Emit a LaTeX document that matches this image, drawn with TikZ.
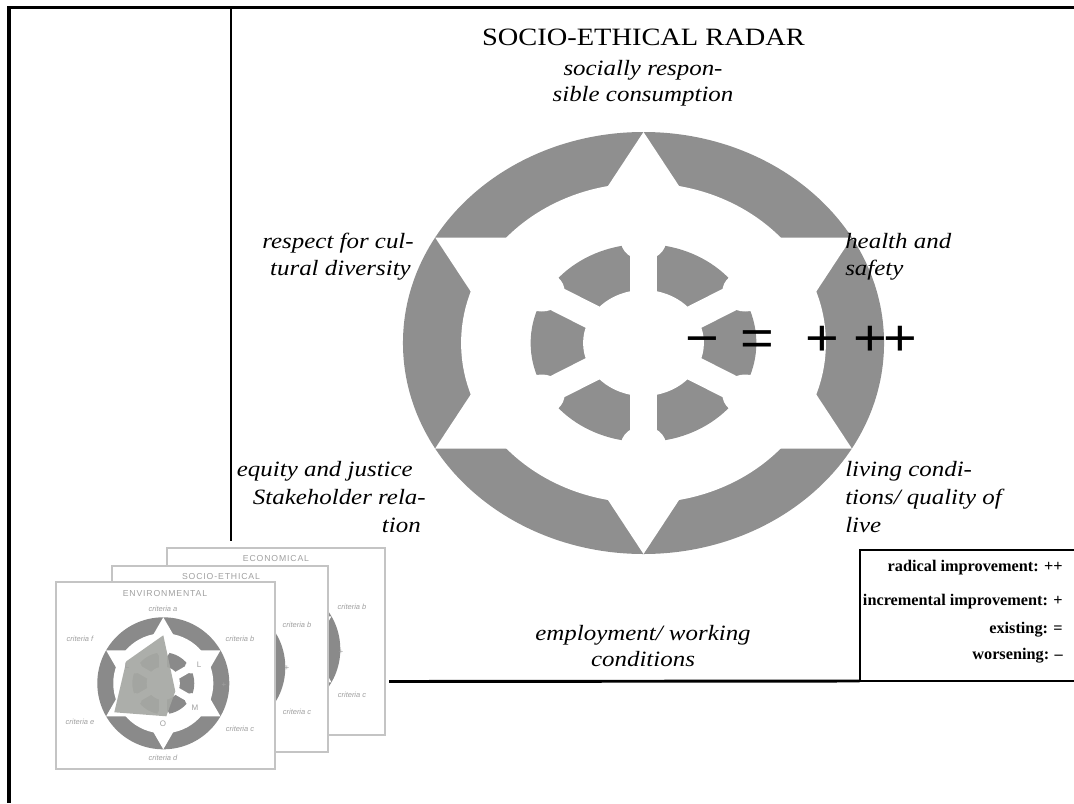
\documentclass[tikz,border=0pt]{standalone}
\usepackage{fontspec}
\setmainfont{Liberation Serif}[FakeStretch=1.14]
\newfontfamily\legendfont{Liberation Serif}
\newfontfamily\signfont{Liberation Sans}[FakeStretch=1.14]
\newfontfamily\thumbfont{Liberation Sans}
\newfontfamily\thumbtitlefont{Liberation Sans}[LetterSpace=10]

\definecolor{ringgray}{HTML}{8F8F8F}
\definecolor{thumbring}{HTML}{8A8A8A}
\definecolor{thumbline}{HTML}{C4C4C4}
\definecolor{thumbtext}{HTML}{A0A0A0}
\definecolor{thumbdata}{HTML}{A6A8A3}

\tikzset{
  radar fill/.store in=\radarfillcolor,
  radar fill=ringgray,
  % outer ring, white hexagram, inner wheel with six spokes
  radar/.pic={
    \fill[\radarfillcolor] (0,0) circle[radius=211];
    \fill[white] (0,0) circle[radius=160];
    \fill[white] (90:211) -- (210:211) -- (330:211) -- cycle;
    \fill[white] (270:211) -- (30:211) -- (150:211) -- cycle;
    \fill[\radarfillcolor] (0,0) circle[radius=99];
    \foreach \a in {30,90,...,330}{
      \fill[white,rotate=-\a] (0,-12.2) -- (125,-12.2) -- (125,12.2) -- (0,12.2) -- cycle;
      \fill[white] (\a:103) circle[radius=20];
    }
    \fill[white] (0,0) circle[radius=53];
  },
  frameline/.style={draw=black, line width=#1},
  axistext/.style={font=\fontsize{16.4}{20}\selectfont\itshape, inner sep=0pt},
  legendtext/.style={font=\legendfont\bfseries\fontsize{12.2}{14}\selectfont, inner sep=0pt, anchor=base east},
  sign/.style={font=\signfont\fontsize{38}{40}\selectfont, inner sep=0pt, anchor=base},
  thumbcard/.style={draw=thumbline, fill=white, line width=1.2pt},
  thumbtitle/.style={font=\thumbtitlefont\fontsize{6.5}{7}\selectfont, text=thumbtext, inner sep=0pt},
  thumblabel/.style={font=\thumbfont\itshape\fontsize{5.6}{6.5}\selectfont, text=thumbtext, inner sep=0pt},
  thumbmark/.style={font=\thumbfont\fontsize{6}{7}\selectfont, text=thumbtext, inner sep=0pt},
}

\begin{document}
\begin{tikzpicture}[x=0.75pt, y=-0.75pt]
\fill[white] (0,0) rectangle (1074,803);
\useasboundingbox (0,0) rectangle (1074,803);

% ---------- frame ----------
\coordinate (frameTL) at (9,7.5);
\coordinate (frameBL) at (9,803);
\coordinate (frameTR) at (1074,7.5);
\coordinate (colTop) at (230.5,7.5);
\coordinate (colEnd) at (230.5,541);
\coordinate (baseStart) at (389,681.5);
\coordinate (boxTR) at (1080,549.5);
\coordinate (boxTL) at (859.5,549.5);
\coordinate (boxBL) at (859.5,681);
\coordinate (boxBR) at (1080,681);
\draw[frameline=2.6pt] ([yshift=1pt]frameTL) -- (frameBL);
\draw[frameline=1.9pt] ([xshift=-1pt]frameTL) -- (frameTR);
\draw[frameline=1.5pt] (colTop) -- (colEnd);
\draw[frameline=2.2pt] (baseStart) -- (boxBL);
\draw[frameline=1.5pt] (boxTR) -- (boxTL) -- (boxBL) -- (boxBR);

% ---------- radar ----------
\pic[xscale=1.14] (mainradar) at (643.5,343) {radar};

% ---------- title and axis names ----------
\node[font=\fontsize{18.7}{22}\selectfont, inner sep=0pt, anchor=base] (title) at (643.5,45) {SOCIO-ETHICAL RADAR};

\node[axistext, anchor=base] (top1) at (643,75) {socially respon-};
\node[axistext, anchor=base] (top2) at (643,101) {sible consumption};

\node[axistext, anchor=base east] (ul1) at (414,248) {respect for cul-};
\node[axistext, anchor=base east] (ul2) at (411,275) {tural diversity};

\node[axistext, anchor=base east] (ll1) at (413,476) {equity and justice};
\node[axistext, anchor=base east] (ll2) at (426,504) {Stakeholder rela-};
\node[axistext, anchor=base east] (ll3) at (421,532) {tion};

\node[axistext, anchor=base west] (ur1) at (845,248) {health and};
\node[axistext, anchor=base west] (ur2) at (845,275) {safety};

\node[axistext, anchor=base west] (lr1) at (845,476) {living condi-};
\node[axistext, anchor=base west] (lr2) at (845,504) {tions/ quality of};
\node[axistext, anchor=base west] (lr3) at (845,532) {live};

\node[axistext, anchor=base] (bot1) at (643,640) {employment/ working};
\node[axistext, anchor=base] (bot2) at (643,666) {conditions};

% ---------- scale signs ----------
\node[sign] (worse) at (702,355) {−};
\node[sign] (same) at (757,355) {=};
\node[sign] (incr) at (822,355) {+};
\node[sign] (radical) at (885,355) {+\kern-3pt+};

% ---------- legend ----------
\node[legendtext] (lg1) at (1063,571) {radical improvement: ++};
\node[legendtext] (lg2) at (1063,605) {incremental improvement: +};
\node[legendtext] (lg3) at (1063,633) {existing: =};
\node[legendtext] (lg4) at (1063,659) {worsening: –};

% ---------- stack of radar sheets ----------
% back sheet
\draw[thumbcard] (167,548) rectangle (385,735);
\node[thumbtitle] (ecoTitle) at (276,559) {ECONOMICAL};
\pic[scale=0.3128, radar fill=thumbring] (ecoRadar) at (274.3,649.3) {radar};
\node[thumblabel] (ecoB) at (352,607) {criteria b};
\node[thumblabel] (ecoC) at (352,695) {criteria c};
\node[thumbmark] (ecoMark) at (341,652) {+};

% middle sheet
\draw[thumbcard] (112,566) rectangle (328,752);
\node[thumbtitle] (socTitle) at (221,577) {SOCIO-ETHICAL};
\pic[scale=0.3128, radar fill=thumbring] (socRadar) at (219.3,667.3) {radar};
\node[thumblabel] (socB) at (297,625) {criteria b};
\node[thumblabel] (socC) at (297,712) {criteria c};
\node[thumbmark] (socMark) at (287,668) {+};

% front sheet
\draw[thumbcard] (56,582) rectangle (275,769);
\node[thumbtitle] (envTitle) at (165,594) {ENVIRONMENTAL};
\pic[scale=0.3128, radar fill=thumbring] (envRadar) at (163.3,683.3) {radar};
\fill[thumbdata, opacity=0.92] (163.3,635.3) -- (175.3,691.3) -- (166.3,716.3)
  -- (114.3,712.3) -- (126.3,661.3) -- cycle;
\node[thumblabel] (envA) at (163,609) {criteria a};
\node[thumblabel] (envB) at (240,639) {criteria b};
\node[thumblabel] (envC) at (240,729) {criteria c};
\node[thumblabel] (envD) at (163,758) {criteria d};
\node[thumblabel] (envE) at (80,722) {criteria e};
\node[thumblabel] (envF) at (80,639) {criteria f};
\node[thumbmark] (envL1) at (127,666) {L};
\node[thumbmark] (envL2) at (199,665) {L};
\node[thumbmark] (envM) at (195,708) {M};
\node[thumbmark] (envO) at (163,724) {O};
\node[thumbmark] (envMark) at (224,685) {+};
\end{tikzpicture}
\end{document}
